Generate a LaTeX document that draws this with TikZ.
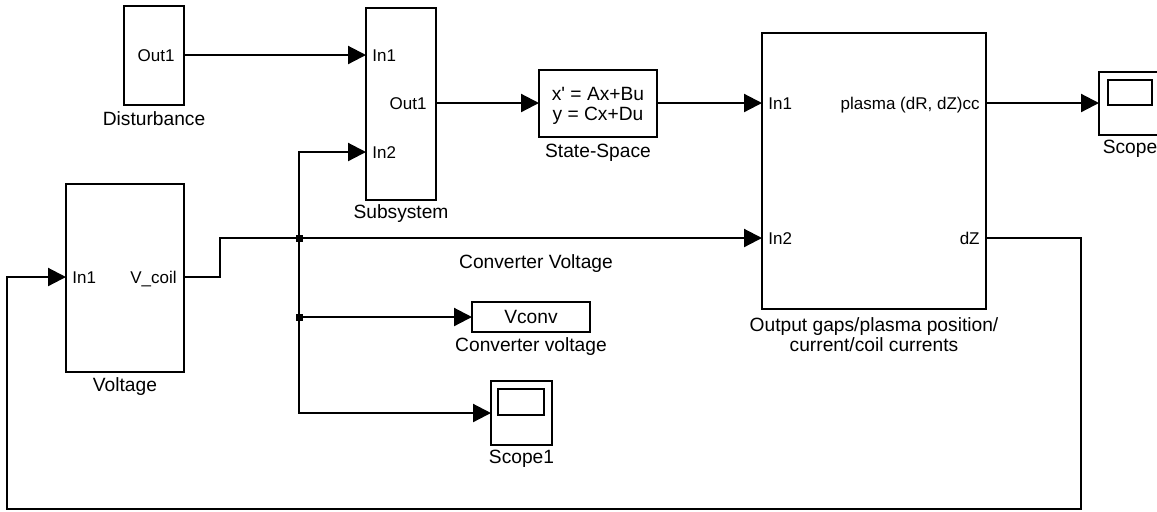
\documentclass[tikz,border=0pt]{standalone}
\usepackage{fontspec}
\setmainfont{Liberation Sans}[Ligatures=TeXOff]
\usetikzlibrary{arrows.meta}
\begin{document}
\begin{tikzpicture}[x=0.5pt,y=-0.5pt,
  blk/.style={draw,line width=1.3pt,inner sep=0pt,outer sep=0pt},
  wire/.style={line width=1.1pt,-{Triangle[length=9pt,width=9pt]}},
  port/.style={font=\fontsize{8.5}{10}\selectfont,inner sep=0pt,text height=6.1pt,text depth=0pt},
  lbl/.style={font=\fontsize{9.6}{10.2}\selectfont,inner sep=0pt,anchor=base},
  jdot/.style={fill,minimum size=3.5pt,inner sep=0pt}]
\useasboundingbox (0,0) rectangle (1157,511);
\clip (0,0) rectangle (1157,511);
% blocks
\node[blk,minimum width=30pt,minimum height=49.5pt] (dist) at (154,55.5) {};
\node[blk,minimum width=35pt,minimum height=96pt] (sub) at (401,104) {};
\node[blk,minimum width=59pt,minimum height=33.5pt,align=center,
      font=\fontsize{9.6}{10}\selectfont,text depth=0pt] (ss) at (598,103.5) {x' = Ax+Bu\\ y = Cx+Du};
\node[blk,minimum width=112pt,minimum height=138pt] (out) at (874,171) {};
\node[blk,minimum width=30.5pt,minimum height=31.5pt] (scope) at (1129.5,103.5) {};
\draw[line width=1.3pt] (1108,80) rectangle (1152,105);
\node[blk,minimum width=59pt,minimum height=94pt] (volt) at (125,278) {};
\node[blk,minimum width=59pt,minimum height=15pt,font=\fontsize{9.6}{11}\selectfont] (vconv) at (531,317) {Vconv};
\node[blk,minimum width=30.5pt,minimum height=32pt] (scope1) at (521.5,413) {};
\draw[line width=1.3pt] (498,389) rectangle (544,415);
% port labels
\node[port,anchor=east] at (175,55) {Out1};
\node[port,anchor=west] at (372,55) {In1};
\node[port,anchor=west] at (372,152) {In2};
\node[port,anchor=east] at (427,103) {Out1};
\node[port,anchor=west] at (768,103) {In1};
\node[port,anchor=west] at (768,238) {In2};
\node[port,anchor=east] at (980,103) {plasma (dR, dZ)cc};
\node[port,anchor=east] at (980,238) {dZ};
\node[port,anchor=west] at (72,277) {In1};
\node[port,anchor=east] at (177,277) {V\_coil};
% block names
\node[lbl] at (154,125.5) {Disturbance};
\node[lbl] at (401,218) {Subsystem};
\node[lbl] at (598,157.5) {State-Space};
\node[lbl] at (874,331) {Output gaps/plasma position/};
\node[lbl] at (874,351.5) {current/coil currents};
\node[lbl] at (1130,153.5) {Scope};
\node[lbl] at (125,391.5) {Voltage};
\node[lbl] at (536,268.5) {Converter Voltage};
\node[lbl] at (531,351.5) {Converter voltage};
\node[lbl] at (521.5,463.5) {Scope1};
% junctions
\coordinate (j1) at (299,238);
\coordinate (j2) at (299,317);
\coordinate (c1) at (220,238);
\coordinate (f1) at (1081,238);
\coordinate (f2) at (1081,509);
\coordinate (f3) at (7,509);
\coordinate (f4) at (7,277);
% wires
\draw[wire] (dist.east |- 0,55) -- (sub.west |- 0,55);
\draw[wire] (sub.east |- 0,103) -- (ss.west |- 0,103);
\draw[wire] (ss.east |- 0,103) -- (out.west |- 0,103);
\draw[wire] (out.east |- 0,103) -- (scope.west |- 0,103);
\draw[wire] (volt.east |- 0,277) -| (c1) -- (out.west |- j1);
\draw[wire] (j1) |- (sub.west |- 0,152);
\draw[wire] (j1) -- (j2) -- (vconv.west);
\draw[wire] (j2) |- (scope1.west);
\draw[wire] (out.east |- j1) -- (f1) -- (f2) -- (f3) -- (f4) -- (volt.west |- f4);
\node[jdot] at (j1) {};
\node[jdot] at (j2) {};
\end{tikzpicture}
\end{document}
